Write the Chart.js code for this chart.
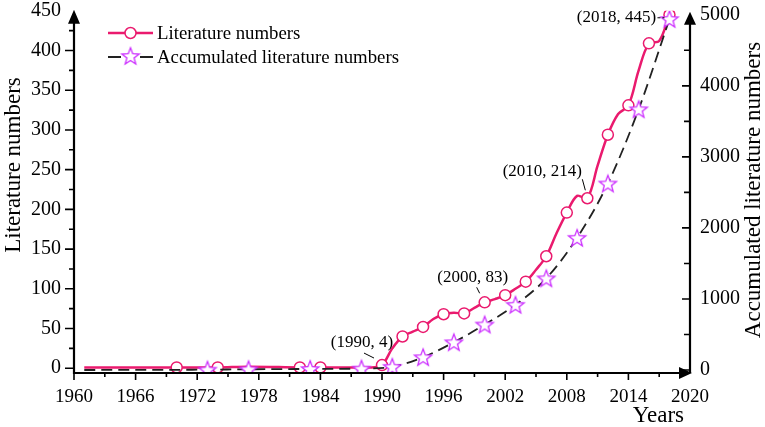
<!DOCTYPE html>
<html>
<head>
<meta charset="utf-8">
<script src="https://cdn.jsdelivr.net/npm/chart.js@4.4.1/dist/chart.umd.min.js"></script>
<style>
  html, body { margin: 0; padding: 0; background: #fff; }
  #wrap { width: 765px; height: 427px; }
</style>
</head>
<body>
<div id="wrap"><canvas id="grafico" width="765" height="427"></canvas></div>
<script>
// --- Datos ---
const litYears = [1961, 1970, 1974, 1977, 1982, 1984, 1988, 1989,
  1990, 1991, 1992, 1993, 1994, 1995, 1996, 1997, 1998, 1999, 2000,
  2001, 2002, 2003, 2004, 2005, 2006, 2007, 2008, 2009,
  2010, 2011, 2012, 2013, 2014, 2015, 2016, 2017, 2018];
const litValues = [1, 1, 1, 2, 1, 1, 1, 1,
  4, 25, 40, 46, 52, 62, 68, 70, 69, 76, 83,
  87, 92, 100, 109, 124, 141, 170, 196, 217,
  214, 255, 294, 320, 331, 375, 409, 412, 445];
const litMarkerYears = [1970, 1974, 1982, 1984, 1990, 1992, 1994, 1996, 1998, 2000,
  2002, 2004, 2006, 2008, 2010, 2012, 2014, 2016, 2018];

const accYears = [1961, 1973, 1977, 1983, 1988, 1991, 1994, 1997, 2000, 2003, 2006, 2009, 2012, 2015, 2018];
const accValues = [0, 5, 10, 15, 20, 45, 180, 390, 640, 917, 1290, 1860, 2625, 3670, 4940];
const accMarkerYears = [1973, 1977, 1983, 1988, 1991, 1994, 1997, 2000, 2003, 2006, 2009, 2012, 2015, 2018];

const yearTicks = [1960, 1966, 1972, 1978, 1984, 1990, 1996, 2002, 2008, 2014, 2020];
const leftTicks = [0, 50, 100, 150, 200, 250, 300, 350, 400, 450];
const rightTicks = [0, 1000, 2000, 3000, 4000, 5000];

const etiquetas = [
  { year: 1990, value: 4, text: "(1990, 4)" },
  { year: 2000, value: 83, text: "(2000, 83)" },
  { year: 2010, value: 214, text: "(2010, 214)" },
  { year: 2018, value: 445, text: "(2018, 445)" }
];

const titulos = {
  legend1: "Literature numbers",
  legend2: "Accumulated literature numbers",
  left: "Literature numbers",
  right: "Accumulated literature numbers",
  x: "Years"
};

// --- Estilos ---
const ROSA = "#ea1a6e";
const MAGENTA = "#cc2eff";
const SERIF = "'Liberation Serif', 'Times New Roman', serif";

// estrella de 5 puntas como pointStyle
function crearEstrella(r) {
  const size = Math.ceil(r * 2 + 4);
  const c = document.createElement("canvas");
  c.width = size; c.height = size;
  const g = c.getContext("2d");
  const cx = size / 2, cy = size / 2 + 0.8;
  g.beginPath();
  for (let i = 0; i < 10; i++) {
    const rad = i % 2 === 0 ? r : r * 0.42;
    const a = -Math.PI / 2 + i * Math.PI / 5;
    const px = cx + rad * Math.cos(a), py = cy + rad * Math.sin(a);
    if (i === 0) g.moveTo(px, py); else g.lineTo(px, py);
  }
  g.closePath();
  g.fillStyle = "#fff";
  g.fill();
  g.strokeStyle = MAGENTA;
  g.lineWidth = 1.3;
  g.stroke();
  return c;
}
const estrella = crearEstrella(9);

const litData = litYears.map((y, i) => ({ x: y, y: litValues[i] }));
const accData = accYears.map((y, i) => ({ x: y, y: accValues[i] }));

// --- Plugin: ejes, ticks, textos, leyenda ---
const dibujoEjes = {
  id: "dibujoEjes",
  afterDatasetsDraw(chart) {
    const ctx = chart.ctx;
    const { left: L, right: R, top: T, bottom: B } = chart.chartArea;
    const sx = chart.scales.x, sy = chart.scales.y, sy1 = chart.scales.y1;

    ctx.save();
    ctx.strokeStyle = "#000";
    ctx.fillStyle = "#000";

    // lineas de ejes
    ctx.lineWidth = 2.2;
    ctx.beginPath();
    ctx.moveTo(L, B + 1); ctx.lineTo(L, T + 10);
    ctx.moveTo(L - 1, B); ctx.lineTo(R - 8, B);
    ctx.moveTo(R, B); ctx.lineTo(R, T + 12);
    ctx.stroke();

    // flechas
    ctx.beginPath();
    ctx.moveTo(L, T - 1); ctx.lineTo(L - 6, T + 13); ctx.lineTo(L + 6, T + 13); ctx.closePath();
    ctx.moveTo(R, T + 1); ctx.lineTo(R - 6, T + 14); ctx.lineTo(R + 6, T + 14); ctx.closePath();
    ctx.moveTo(R + 2, B); ctx.lineTo(R - 11, B - 6); ctx.lineTo(R - 11, B + 6); ctx.closePath();
    ctx.fill();

    // ticks
    ctx.lineWidth = 1.6;
    ctx.beginPath();
    for (let v = 1960; v < 2020; v += 3) {
      const px = sx.getPixelForValue(v);
      const len = (v - 1960) % 6 === 0 ? 7 : 4;
      ctx.moveTo(px, B); ctx.lineTo(px, B + len);
    }
    for (let v = 0; v < 450; v += 25) {
      const py = sy.getPixelForValue(v);
      const len = v % 50 === 0 ? 9 : 5;
      ctx.moveTo(L, py); ctx.lineTo(L - len, py);
    }
    for (let v = 0; v < 5000; v += 500) {
      const py = sy1.getPixelForValue(v);
      const len = v % 1000 === 0 ? 8 : 6;
      ctx.moveTo(R, py); ctx.lineTo(R - len, py);
    }
    ctx.stroke();

    // etiquetas de ticks
    ctx.font = "19px " + SERIF;
    ctx.textAlign = "center";
    ctx.textBaseline = "middle";
    yearTicks.forEach(v => ctx.fillText(String(v), sx.getPixelForValue(v), B + 24));
    ctx.font = "20px " + SERIF;
    ctx.textAlign = "right";
    leftTicks.forEach(v => ctx.fillText(String(v), L - 13, sy.getPixelForValue(v)));
    ctx.textAlign = "left";
    rightTicks.forEach(v => ctx.fillText(String(v), R + 10, sy1.getPixelForValue(v)));

    // titulos de ejes
    ctx.font = "23px " + SERIF;
    ctx.textAlign = "center";
    ctx.save();
    ctx.translate(14, 165);
    ctx.rotate(-Math.PI / 2);
    ctx.fillText(titulos.left, 0, 0);
    ctx.restore();
    ctx.save();
    ctx.translate(754, 190);
    ctx.rotate(-Math.PI / 2);
    ctx.fillText(titulos.right, 0, 0);
    ctx.restore();
    ctx.textAlign = "right";
    ctx.fillText(titulos.x, 684, 416);

    // anotaciones
    ctx.font = "17px " + SERIF;
    ctx.textAlign = "center";
    ctx.lineWidth = 1;
    const offs = [
      { dx: -20, dy: -23, l: [-18, -12, -8, -7] },
      { dx: -12, dy: -25, l: [-8, -15, -5, -9] },
      { dx: -45, dy: -27, l: [-5, -19, -2, -8] },
      { dx: -53, dy: 3, l: [-12, 3, -5, 3] }
    ];
    etiquetas.forEach((e, i) => {
      const px = sx.getPixelForValue(e.year), py = sy.getPixelForValue(e.value);
      const o = offs[i];
      ctx.fillText(e.text, px + o.dx, py + o.dy);
      ctx.beginPath();
      if (i === 3) ctx.setLineDash([3, 2]); else ctx.setLineDash([]);
      ctx.moveTo(px + o.l[0], py + o.l[1]);
      ctx.lineTo(px + o.l[2], py + o.l[3]);
      ctx.stroke();
    });
    ctx.setLineDash([]);

    // leyenda
    ctx.textAlign = "left";
    ctx.font = "18.8px " + SERIF;
    ctx.strokeStyle = ROSA;
    ctx.lineWidth = 2.5;
    ctx.beginPath(); ctx.moveTo(108, 33); ctx.lineTo(153, 33); ctx.stroke();
    ctx.beginPath(); ctx.arc(130.5, 33, 5.5, 0, Math.PI * 2);
    ctx.fillStyle = "#fff"; ctx.fill();
    ctx.lineWidth = 1.5; ctx.stroke();
    ctx.fillStyle = "#000";
    ctx.fillText(titulos.legend1, 157, 34);

    ctx.strokeStyle = "#222";
    ctx.lineWidth = 2;
    ctx.beginPath();
    ctx.moveTo(108, 57); ctx.lineTo(121, 57);
    ctx.moveTo(140, 57); ctx.lineTo(153, 57);
    ctx.stroke();
    ctx.drawImage(estrella, 130.5 - estrella.width / 2, 56 - estrella.height / 2);
    ctx.fillText(titulos.legend2, 157, 58);

    ctx.restore();
  }
};

const ocultar = {
  grid: { display: false },
  border: { display: false },
  ticks: { display: false }
};

new Chart(document.getElementById("grafico"), {
  type: "line",
  data: {
    datasets: [
      {
        label: titulos.legend2,
        data: accData,
        yAxisID: "y1",
        borderColor: "#222",
        borderWidth: 1.8,
        borderDash: [11, 6],
        cubicInterpolationMode: "monotone",
        pointStyle: estrella,
        pointRadius: accYears.map(y => accMarkerYears.includes(y) ? 9 : 0),
        fill: false
      },
      {
        label: titulos.legend1,
        data: litData,
        yAxisID: "y",
        borderColor: ROSA,
        borderWidth: 2.5,
        tension: 0.35,
        pointStyle: "circle",
        pointRadius: litYears.map(y => litMarkerYears.includes(y) ? 5.5 : 0),
        pointBackgroundColor: "#fff",
        pointBorderColor: ROSA,
        pointBorderWidth: 1.5,
        fill: false
      }
    ]
  },
  options: {
    responsive: false,
    animation: false,
    layout: { padding: { top: 8, left: 0, right: 0, bottom: 0 } },
    plugins: {
      legend: { display: false },
      tooltip: { enabled: false }
    },
    scales: {
      x: {
        type: "linear", min: 1960, max: 2020, ...ocultar,
        afterFit: s => { s.height = 54; }
      },
      y: {
        position: "left", min: -6, max: 450, ...ocultar,
        afterFit: s => { s.width = 74; }
      },
      y1: {
        position: "right", min: -42, max: 5056, ...ocultar,
        afterFit: s => { s.width = 75; }
      }
    }
  },
  plugins: [dibujoEjes]
});
</script>
</body>
</html>
